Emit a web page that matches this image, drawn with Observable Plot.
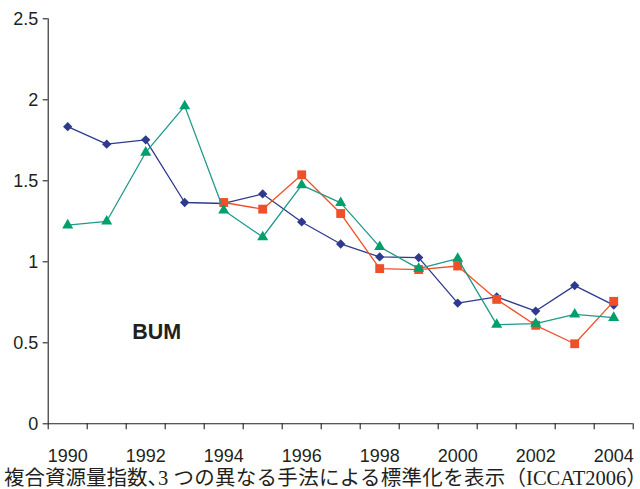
<!DOCTYPE html>
<html>
<head>
<meta charset="utf-8">
<script src="https://cdn.jsdelivr.net/npm/d3@7"></script>
<script src="https://cdn.jsdelivr.net/npm/@observablehq/plot@0.6"></script>
<style>
  html, body { margin: 0; padding: 0; background: #fff; overflow: hidden; }
  #chart svg { display: block; }
  #caption {
    font-family: "Liberation Serif", "Noto Sans CJK JP", serif;
    font-size: 20.5px; line-height: 24px; color: #231f20;
    padding-left: 4px; white-space: nowrap; margin-top: -4px;
    position: relative;
  }
  #caption .narrow { letter-spacing: -10px; }
  #caption .wide { letter-spacing: 0.3px; }
</style>
</head>
<body>
<div id="chart"></div>
<div id="caption"></div>
<script>
const years = [1990,1991,1992,1993,1994,1995,1996,1997,1998,1999,2000,2001,2002,2003,2004];
const blueValues = [1.834,1.726,1.753,1.366,1.36,1.419,1.246,1.11,1.03,1.026,0.745,0.783,0.696,0.853,0.733];
const redYears = [1994,1995,1996,1997,1998,1999,2000,2001,2002,2003,2004];
const redValues = [1.366,1.325,1.537,1.298,0.958,0.952,0.974,0.768,0.608,0.494,0.756];
const greenValues = [1.226,1.25,1.675,1.961,1.318,1.153,1.473,1.364,1.092,0.958,1.02,0.612,0.618,0.676,0.655];
const yTicks = [0, 0.5, 1, 1.5, 2, 2.5];
const xLabelYears = [1990,1992,1994,1996,1998,2000,2002,2004];
const xBoundaries = [1989.5,1990.5,1991.5,1992.5,1993.5,1994.5,1995.5,1996.5,1997.5,1998.5,1999.5,2000.5,2001.5,2002.5,2003.5,2004.5];
const speciesLabel = "BUM";
const captionParts = ["複合資源量指数", "、", "3 ", "つの異なる手法による標準化を表示", "（ICCAT2006", "）"];

const blue = years.map((y, i) => ({year: y, value: blueValues[i]}));
const red = redYears.map((y, i) => ({year: y, value: redValues[i]}));
const green = years.map((y, i) => ({year: y, value: greenValues[i]}));

const ink = "#231f20";
const blueC = "#2e3a8e";
const redC = "#ef5029";
const greenLine = "#1e9a8a";
const greenMark = "#00a06c";

const W = 640, H = 470, mL = 47.7, mR = 7.3, mT = 18.3, mB = 46.7;
const xDomain = [xBoundaries[0], xBoundaries[xBoundaries.length - 1]];
const yDomain = [0, 2.5];
const xMin = xDomain[0];
// tick lengths in pixels, converted to scale units
const xTickLen = 5 * (xDomain[1] - xDomain[0]) / (W - mL - mR);
const yTickLen = 6 * (yDomain[1] - yDomain[0]) / (H - mT - mB);

const plot = Plot.plot({
  width: W,
  height: H,
  marginLeft: mL,
  marginRight: mR,
  marginTop: mT,
  marginBottom: mB,
  x: {domain: xDomain, axis: null},
  y: {domain: yDomain, axis: null},
  style: {fontFamily: "'Liberation Sans', Arial, sans-serif", color: ink, background: "#fff"},
  marks: [
    Plot.ruleX([xMin], {stroke: ink, strokeWidth: 1.1}),
    Plot.ruleY([0], {stroke: ink, strokeWidth: 1.1}),
    Plot.ruleX(xBoundaries, {x: d => d, y1: 0, y2: -yTickLen, stroke: ink, strokeWidth: 1.1}),
    Plot.ruleY(yTicks, {y: d => d, x1: xMin, x2: xMin - xTickLen, stroke: ink, strokeWidth: 1.1}),
    Plot.text(yTicks, {x: xMin, y: d => d, text: d => String(d), textAnchor: "end", dx: -10, fontSize: 18, fill: ink}),
    Plot.text(xLabelYears, {x: d => d, frameAnchor: "bottom", lineAnchor: "bottom", dy: 37.7, text: d => String(d), fontSize: 18, fill: ink, ariaLabel: "xlabels"}),
    Plot.text([speciesLabel], {x: 1992.28, y: 0.564, text: d => d, fontSize: 21.5, fontWeight: "bold", fill: ink, ariaLabel: "species"}),
    Plot.line(blue, {x: "year", y: "value", stroke: blueC, strokeWidth: 1.3}),
    Plot.dot(blue, {x: "year", y: "value", symbol: "diamond2", r: 4.2, fill: blueC, stroke: null}),
    Plot.line(red, {x: "year", y: "value", stroke: redC, strokeWidth: 1.3}),
    Plot.dot(red, {x: "year", y: "value", symbol: "square", r: 5, fill: redC, stroke: null}),
    Plot.line(green, {x: "year", y: "value", stroke: greenLine, strokeWidth: 1.3}),
    Plot.dot(green, {x: "year", y: "value", symbol: "triangle", r: 4.1, fill: greenMark, stroke: null})
  ]
});
document.getElementById("chart").appendChild(plot);
d3.select(plot).selectAll('g[aria-label="xlabels"] text').style("letter-spacing", "-1.8px");
d3.select(plot).selectAll('g[aria-label="species"] text').style("letter-spacing", "-2.5px");
const cap = d3.select("#caption");
const partClass = ["", "narrow", "", "wide", "", "narrow"];
captionParts.forEach((t, i) => cap.append("span").attr("class", partClass[i]).text(t));
</script>
</body>
</html>
